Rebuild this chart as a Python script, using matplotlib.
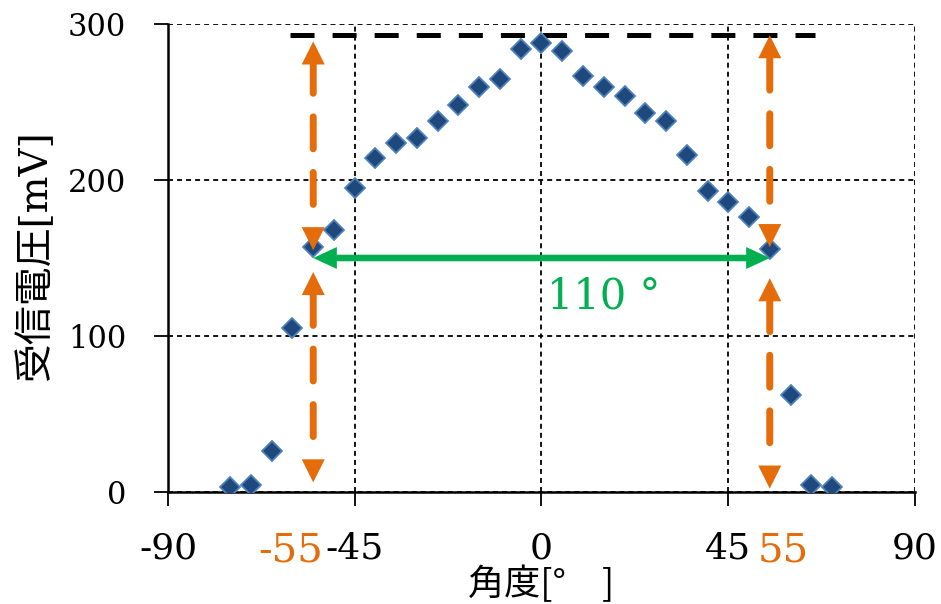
import matplotlib
matplotlib.use("Agg")
import matplotlib.pyplot as plt

plt.rcParams["lines.scale_dashes"] = False

# measured received voltage vs. rotation angle
angle_deg = [-75, -70, -65, -60, -55, -50, -45, -40, -35, -30,
             -25, -20, -15, -10, -5, 0, 5, 10, 15, 20,
             25, 30, 35, 40, 45, 50, 55, 60, 65, 70]
voltage_mv = [3, 4, 26, 105, 157, 168, 195, 214, 224, 227,
              238, 248, 260, 265, 284, 288, 283, 267, 260, 254,
              243, 238, 216, 193, 186, 176, 156, 62, 4, 3]

x_ticks = [-90, -45, 0, 45, 90]
y_ticks = [0, 100, 200, 300]

# peak reference line
peak_line_y = 293
peak_line_x = [-60.5, 66]

# beam edges and the vertical marker arrows (bottom, top) on each side
edge_angles = [-55, 55]
edge_labels = ["-55", "55"]
upper_span = [(155, 289), (157, 293)]
lower_span = [(6, 141), (2, 137)]

beam_y = 150
beam_text = "110 °"
beam_text_pos = (15, 125)

ORANGE = "#E46C0A"
GREEN = "#00B050"
SERIF = ["DejaVu Serif", "Noto Sans CJK JP"]


def head(ax, x, y, dx, dy, color, length, half_width):
    # filled arrow head with its tip at (x, y), pointing along (dx, dy)
    ax.annotate("", xy=(x, y), xytext=(-dx * length, -dy * length),
                textcoords="offset points",
                arrowprops=dict(arrowstyle=f"-|>,head_length={length},head_width={half_width}",
                                mutation_scale=1, color=color, lw=0,
                                shrinkA=0, shrinkB=0), zorder=5)


def v_arrow(ax, x, y0, y1):
    # dashed shaft between two heads
    ax.annotate("", xy=(x, y1), xytext=(x, y0),
                arrowprops=dict(arrowstyle="-", color=ORANGE, lw=5.0,
                                linestyle=(23, (23, 17)),
                                shrinkA=16, shrinkB=16), zorder=5)
    head(ax, x, y1, 0, 1, ORANGE, 16.6, 8.3)
    head(ax, x, y0, 0, -1, ORANGE, 16.6, 8.3)


fig = plt.figure(figsize=(9.41, 6.04), dpi=100)
ax = fig.add_axes([0.1785, 0.1859, 0.7939, 0.7739])

ax.plot(peak_line_x, [peak_line_y, peak_line_y], color="black", lw=3.6,
        linestyle=(0, (17.3, 13)), solid_capstyle="butt", zorder=2)

ax.plot(angle_deg, voltage_mv, linestyle="none", marker="D", markersize=10.4,
        markerfacecolor="#1F497D", markeredgecolor="#4F81BD",
        markeredgewidth=1.3, zorder=3)

for x, (a0, a1), (b0, b1) in zip(edge_angles, upper_span, lower_span):
    v_arrow(ax, x, a0, a1)
    v_arrow(ax, x, b0, b1)

# beam width arrow
ax.annotate("", xy=(edge_angles[1], beam_y), xytext=(edge_angles[0], beam_y),
            arrowprops=dict(arrowstyle="-", color=GREEN, lw=4.7,
                            shrinkA=15, shrinkB=15), zorder=5)
head(ax, edge_angles[1], beam_y, 1, 0, GREEN, 17, 7.9)
head(ax, edge_angles[0], beam_y, -1, 0, GREEN, 17, 7.9)
ax.text(*beam_text_pos, beam_text, color=GREEN, fontsize=30, family=SERIF,
        ha="center", va="center", zorder=6)

ax.set_xlim(-90, 90)
ax.set_ylim(0, 300)
ax.set_xticks(x_ticks)
ax.set_yticks(y_ticks)
ax.set_xticklabels([str(v) for v in x_ticks], family=SERIF, fontsize=26)
ax.set_yticklabels([str(v) for v in y_ticks], family=SERIF, fontsize=22)
ax.tick_params(axis="x", direction="out", length=10, width=1.3, pad=19)
ax.tick_params(axis="y", direction="out", length=10, width=1.3, pad=20)

ax.grid(True, color="black", lw=1.3, linestyle=(0, (3.6, 2.9)))
ax.set_axisbelow(True)
for side in ["top", "right"]:
    ax.spines[side].set_visible(False)
for side in ["left", "bottom"]:
    ax.spines[side].set_linewidth(1.8)

for x, lab, dx in zip(edge_angles, edge_labels, [-16, 10]):
    ax.annotate(lab, xy=(x, 0), xytext=(dx, -43), textcoords="offset points",
                color=ORANGE, fontsize=29, family=SERIF,
                ha="center", va="center", annotation_clip=False)

ax.set_xlabel("角度[°　]", fontsize=26, family="Noto Sans CJK JP", va="center")
ax.xaxis.set_label_coords(0.5, -0.1975)
ax.set_ylabel("受信電圧[mV]", fontsize=28, family=SERIF, va="center")
ax.yaxis.set_label_coords(-0.178, 0.506)

plt.savefig("out.png", dpi=100)
